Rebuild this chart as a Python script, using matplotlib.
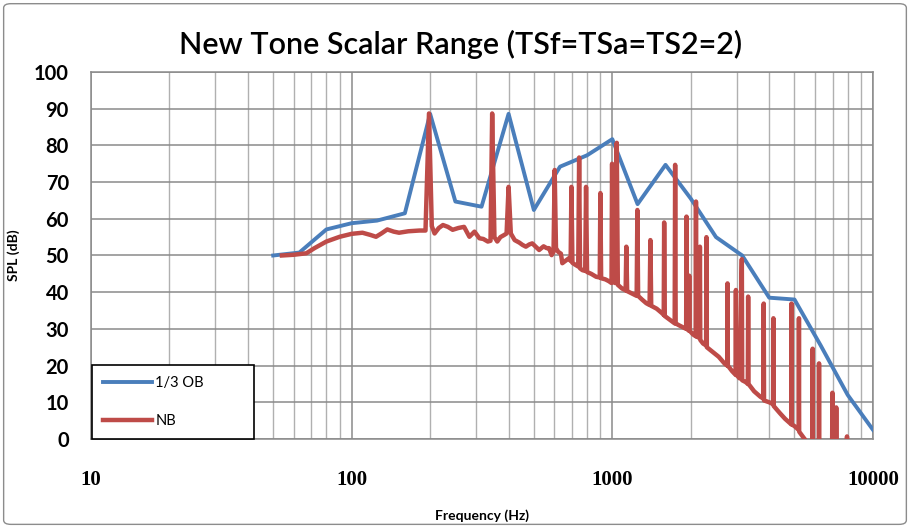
import numpy as np
import matplotlib
matplotlib.use('Agg')
import matplotlib.pyplot as plt
from matplotlib.patches import FancyBboxPatch

# 1/3 octave band spectrum
ob_freq = [50, 63, 80, 100, 125, 160, 200, 250, 315, 400, 500, 630, 800, 1000,
           1250, 1600, 2000, 2500, 3150, 4000, 5000, 6300, 8000, 10000]
ob_spl = [50.0, 50.8, 57.1, 58.8, 59.5, 61.5, 88.6, 64.7, 63.3, 88.6, 62.4, 74.2,
          77.3, 81.7, 64.0, 74.7, 65.5, 55.0, 50.0, 38.5, 38.0, 25.5, 12.0, 2.5]

# narrow band spectrum
nb_freq = [54, 60, 67, 72, 80, 90, 100, 110, 118, 124, 130, 137, 145, 152, 165, 182, 192,
           198, 203, 208, 216, 224, 234, 244, 257, 270, 283, 296, 309, 320, 333, 341,
           346, 353, 362, 372, 385, 393, 400, 408, 422, 440, 452, 466, 480, 493, 510,
           524, 545, 560, 572, 585, 595, 601, 608, 620, 635, 643, 660, 683, 692,
           697, 703, 720, 740, 746, 752, 768, 787, 793, 800, 830, 867, 895,
           900, 906, 940, 970, 993, 998, 1005, 1025, 1040, 1050, 1090, 1125,
           1132, 1140, 1200, 1240, 1248, 1256, 1300, 1350, 1390, 1400, 1410, 1480,
           1550, 1575, 1581, 1590, 1660, 1735, 1742, 1750, 1800, 1860, 1920,
           1926, 1935, 1966, 1973, 1980, 2040, 2088, 2094, 2100, 2160, 2168,
           2175, 2230, 2290, 2297, 2305, 2400, 2560, 2700, 2760, 2767, 2775,
           2880, 2970, 2980, 2990, 3080, 3140, 3150, 3250, 3310, 3320, 3330,
           3500, 3700, 3800, 3810, 3820, 4000, 4140, 4150, 4160, 4400, 4600,
           4860, 4870, 4880, 5000, 5190, 5200, 5210, 5400, 5600, 5860, 5870,
           5880, 6200, 6210, 6220, 6970, 6990, 7010, 7210, 7230, 7250, 7930,
           7950, 7970]
nb_spl = [50.0, 50.2, 50.6, 52.0, 53.8, 55.1, 55.9, 56.2, 55.6, 55.1, 56.0, 57.1, 56.5,
          56.2, 56.6, 56.8, 56.8,
          88.7, 58.0, 56.0, 57.5, 58.3, 57.8, 57.0, 57.5, 57.8, 55.1, 56.5, 54.7, 54.5,
          53.8, 54.0,
          88.7, 55.0, 53.8, 55.0, 55.6, 56.0, 68.7, 56.0, 54.2, 53.5, 52.9, 52.4, 53.0,
          53.3, 52.3, 51.5, 52.5, 52.0, 52.0, 50.1, 51.0, 73.3, 52.0, 51.0, 50.5,
          47.9, 48.5, 49.3, 48.5,
          68.7, 48.0, 47.5, 47.0, 76.7, 46.5, 46.0, 45.8, 68.7, 45.5, 45.0, 44.2, 44.0,
          67.0, 43.8, 43.5, 43.0, 42.5, 75.0, 43.0, 42.5, 80.7, 42.0, 41.0, 40.5,
          52.4, 40.3, 39.5, 39.0, 62.4, 39.0, 38.0, 37.0, 36.5, 54.2, 36.3, 35.5,
          34.3, 33.8, 59.0, 33.5, 32.5, 31.5, 74.7, 31.5, 31.0, 30.5, 30.0,
          60.6, 30.0, 29.5, 44.5, 29.5, 28.5, 28.0, 64.7, 28.0, 27.5, 52.4,
          27.0, 26.0, 25.5, 55.0, 25.0, 24.0, 22.4, 20.5, 20.0, 42.4, 20.0,
          18.5, 17.5, 40.6, 17.5, 16.5, 49.0, 16.0, 15.5, 15.0, 38.8, 15.0,
          13.0, 11.5, 11.0, 36.9, 10.5, 10.0, 9.5, 32.9, 9.0, 7.0, 5.5,
          4.0, 36.9, 4.0, 3.5, 2.5, 32.9, 2.0, 0.5, -1.0, -3.0, 24.6,
          -3.0, -3.0, 20.6, -3.0, -3.0, 12.6, -3.0, -3.0, 8.6, -3.0, -3.0,
          0.7, -3.0]

blue = '#4a7ebb'
red = '#be4b48'

fig = plt.figure(figsize=(9.1, 5.27), dpi=100)
fig.patches.append(FancyBboxPatch((0.004, 0.005), 0.992, 0.988, boxstyle='round,pad=0,rounding_size=0.008',
                                  transform=fig.transFigure, fill=False, edgecolor='#8c8c8c', lw=1.0))
ax = fig.add_axes([0.1, 0.167, 0.8593, 0.6964])

ax.plot(ob_freq, ob_spl, color=blue, lw=2.8, label='1/3 OB', solid_joinstyle='round', zorder=3)
ax.plot(nb_freq, nb_spl, color=red, lw=3.2, label='NB', solid_joinstyle='round', zorder=3)

ax.set_xscale('log')
ax.set_xlim(10, 10000)
ax.set_ylim(0, 100)
ax.set_yticks(np.arange(0, 101, 10))
ax.set_xticks([10, 100, 1000, 10000])
ax.set_xticklabels(['10', '100', '1000', '10000'], family='Liberation Serif', fontweight='bold', fontsize=15)
ax.set_yticklabels([str(v) for v in range(0, 101, 10)], family='Lato', fontweight='bold', fontsize=14.5)
ax.tick_params(axis='both', which='both', length=0)
ax.tick_params(axis='x', pad=22)
ax.tick_params(axis='y', pad=16)

ax.grid(True, which='major', color='#8a8a8a', lw=1.1)
ax.grid(True, which='minor', axis='x', color='#b0b0b0', lw=1.0)
ax.set_axisbelow(True)
for s in ax.spines.values():
    s.set_color('#8a8a8a')
    s.set_linewidth(1.1)

fig.text(0.506, 0.915, 'New Tone Scalar Range (TSf=TSa=TS2=2)', family='Lato', fontweight='semibold',
         fontsize=22, ha='center', va='center')
ax.set_xlabel('Frequency (Hz)', family='Lato', fontweight='bold', fontsize=10, labelpad=14)
ax.set_ylabel('SPL (dB)', family='Lato', fontweight='bold', fontsize=10, labelpad=10)

leg = ax.legend(loc='lower left', bbox_to_anchor=(0.001, 0.001, 0.207, 0.21), mode='expand',
                borderaxespad=0.0, fancybox=False,
                framealpha=1, edgecolor='black', handlelength=3.4, handletextpad=0.2,
                labelspacing=1.6, borderpad=0.75, prop={'family': 'Lato', 'size': 10.5})
leg.get_frame().set_linewidth(1.2)
leg.set_zorder(5)

fig.savefig('out.png', dpi=100)
